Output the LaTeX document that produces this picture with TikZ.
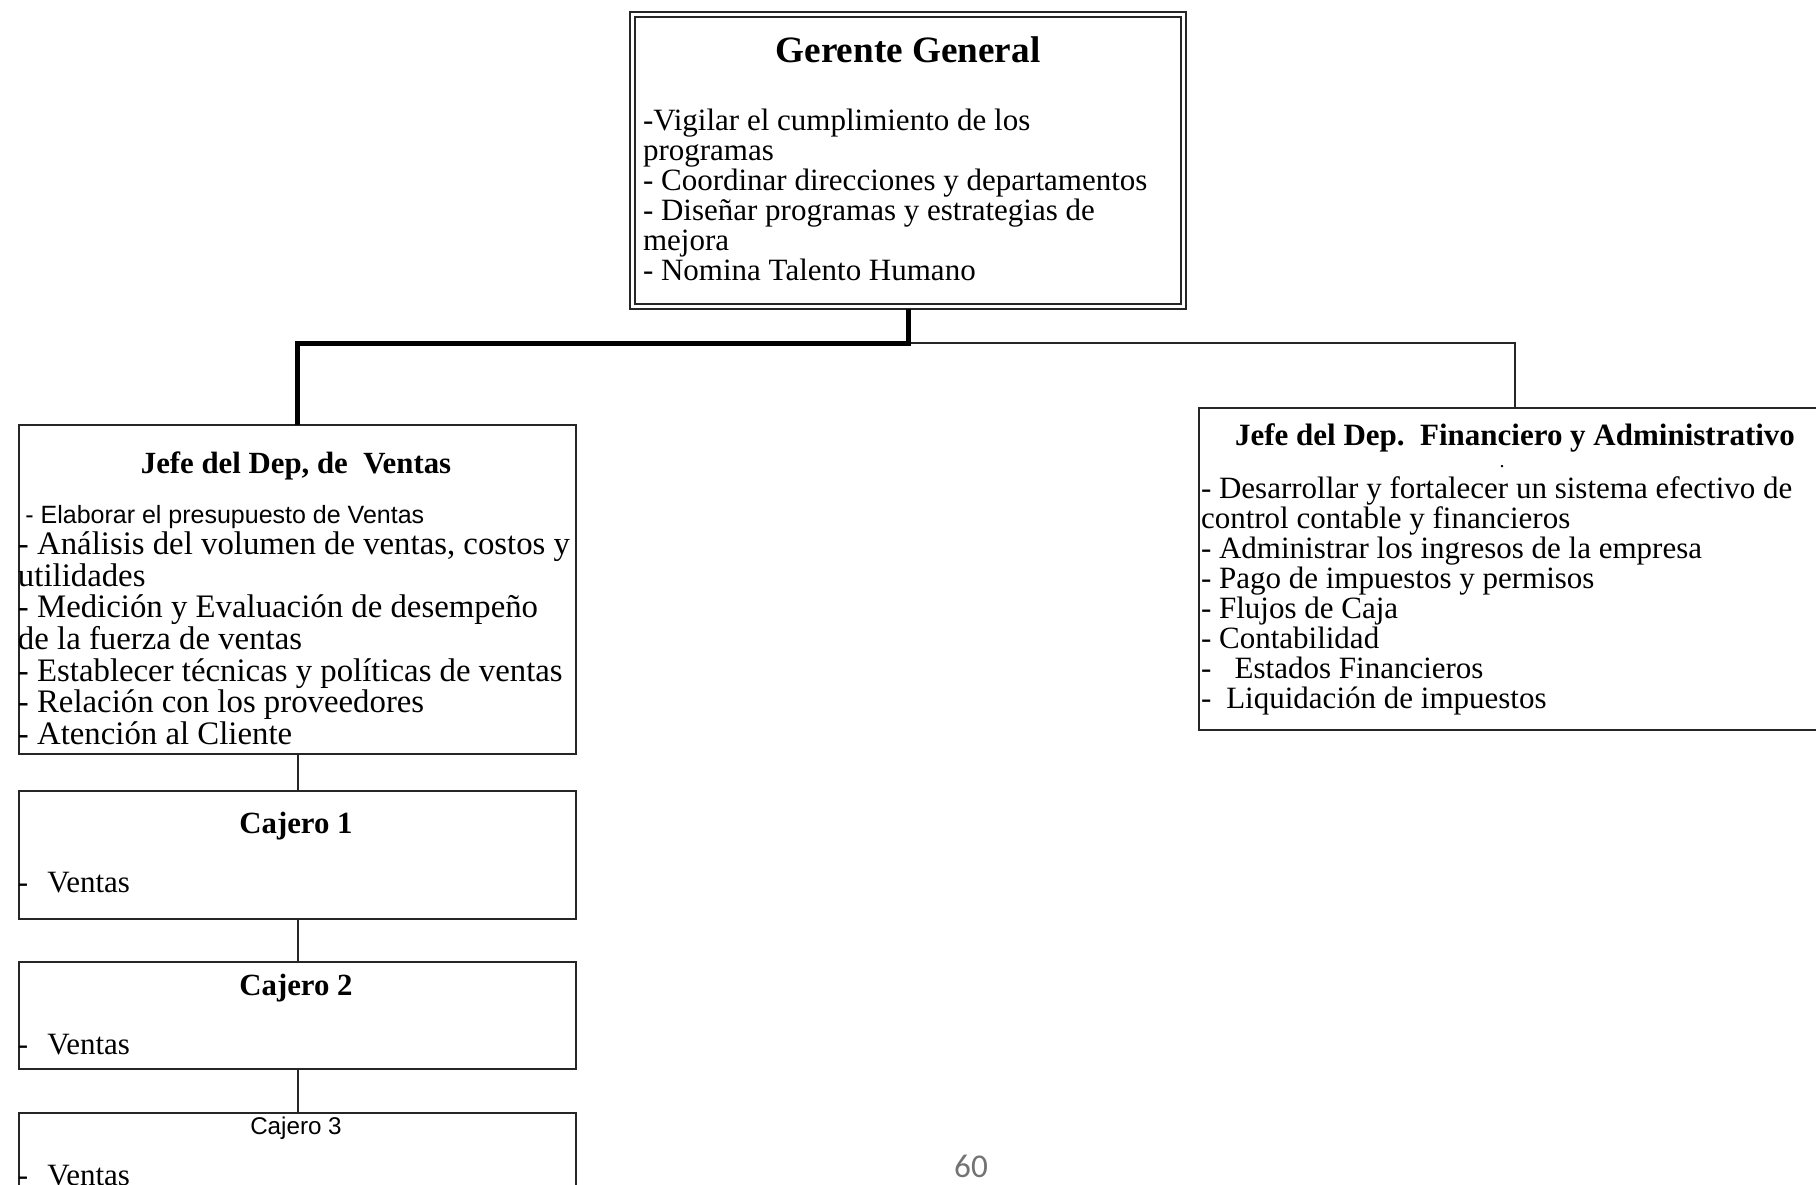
\documentclass[tikz,border=0pt]{standalone}
\usepackage{fontspec}
\usetikzlibrary{calc}
\setmainfont{Liberation Serif}
\newfontfamily\arialf{Liberation Sans}
\newfontfamily\calibf{Carlito}
\newcommand\fsz[2]{\fontsize{#1}{#2}\selectfont\lineskiplimit=-100pt\lineskip=0pt}
% multi-line block whose first baseline sits on the node's base anchor
\newcommand\txtblock[3]{\parbox[t]{520pt}{\raggedright\fsz{#1}{#2}#3}}
\begin{document}
\begin{tikzpicture}[x=0.5pt,y=-0.5pt]
\tikzset{
  boxsty/.style={draw=black!85, line width=1pt, rectangle, inner sep=0pt, outer sep=0pt},
  txt/.style={anchor=base west, inner sep=0pt, outer sep=0pt},
  ttl/.style={anchor=base, inner sep=0pt, outer sep=0pt},
  thickconn/.style={draw=black, line width=2.5pt},
  thinconn/.style={draw=black!85, line width=1pt},
}
\useasboundingbox (0,0) rectangle (1816,1184);
\fill[white] (0,0) rectangle (1816,1184);

% ---- boxes ----
\node[boxsty, line width=1.4pt, minimum width=278pt, minimum height=148.5pt] (ger) at (908,160.5) {};
\node[boxsty, line width=0.8pt, minimum width=273pt, minimum height=143.5pt] (gerin) at (908,160.5) {};
\node[boxsty, minimum width=278.5pt, minimum height=164.5pt] (ventas) at (297.5,589.5) {};
\node[boxsty, minimum width=316pt, minimum height=161pt] (fin) at (1515,569) {};
\node[boxsty, minimum width=278.5pt, minimum height=64pt] (caj1) at (297.5,855) {};
\node[boxsty, minimum width=278.5pt, minimum height=53.5pt] (caj2) at (297.5,1015.5) {};
\node[boxsty, minimum width=278.5pt, minimum height=63.5pt] (caj3) at (297.5,1176.5) {};

% ---- connectors ----
\coordinate (junc) at ($(ger.south)+(0,34)$);
\draw[thinconn] (junc) -| (fin.north);
\draw[thickconn] (ger.south) -- (junc) -| (ventas.north);
\draw[thinconn] (ventas.south) -- (caj1.north);
\draw[thinconn] (caj1.south) -- (caj2.north);
\draw[thinconn] (caj2.south) -- (caj3.north);

% ---- Gerente General ----
\node[ttl] (gtitle) at (908,62) {\fsz{18.6}{20}\bfseries Gerente General};
\node[txt] (gbody) at (643,130) {\txtblock{15.5}{15}{%
-Vigilar el cumplimiento de los\\
programas\\
- Coordinar direcciones y departamentos\\
- Diseñar programas y estrategias de\\
mejora\\
- Nomina Talento Humano}};

% ---- Jefe de Ventas ----
\node[ttl] (vtitle) at (296,473) {\fsz{15.4}{17}\bfseries Jefe del Dep, de~~Ventas};
\node[txt] (vbody) at (18,523) {\txtblock{16.4}{15.8}{%
\hspace*{3.7pt}{\arialf\fontsize{12.5}{15.8}\selectfont - Elaborar el presupuesto de Ventas}\\
- Análisis del volumen de ventas, costos y\\
utilidades\\
- Medición y Evaluación de desempeño\\
de la fuerza de ventas\\
- Establecer técnicas y políticas de ventas\\
- Relación con los proveedores\\
- Atención al Cliente}};

% ---- Jefe Financiero ----
\node[ttl] (ftitle) at (1515,445) {\fsz{15.5}{17}\bfseries Jefe del Dep.~~Financiero y Administrativo};
\node[ttl] (fdot) at (1502,467) {\fsz{10}{12}.};
\node[txt] (fbody) at (1201,498) {\txtblock{15.5}{15}{%
- Desarrollar y fortalecer un sistema efectivo de\\
control contable y financieros\\
- Administrar los ingresos de la empresa\\
- Pago de impuestos y permisos\\
- Flujos de Caja\\
- Contabilidad\\
-\hspace{11.7pt}Estados Financieros\\
-\hspace{7.5pt}Liquidación de impuestos}};

% ---- Cajeros ----
\node[ttl] (c1title) at (296,833) {\fsz{15.4}{17}\bfseries Cajero 1};
\node[txt] (c1body) at (18,892) {\fsz{15.5}{17}-\hspace{9.5pt}Ventas};
\node[ttl] (c2title) at (296,995) {\fsz{15.4}{17}\bfseries Cajero 2};
\node[txt] (c2body) at (18,1054) {\fsz{15.5}{17}-\hspace{9.5pt}Ventas};
\node[ttl] (c3title) at (296,1134) {\arialf\fsz{12.1}{14}Cajero 3};
\node[txt] (c3body) at (18,1185) {\fsz{15.5}{17}-\hspace{9.5pt}Ventas};

% ---- page number ----
\node[text=black!55, inner sep=0pt] (pagenum) at (971,1166) {\calibf\fsz{16.6}{18}60};
\end{tikzpicture}
\end{document}
